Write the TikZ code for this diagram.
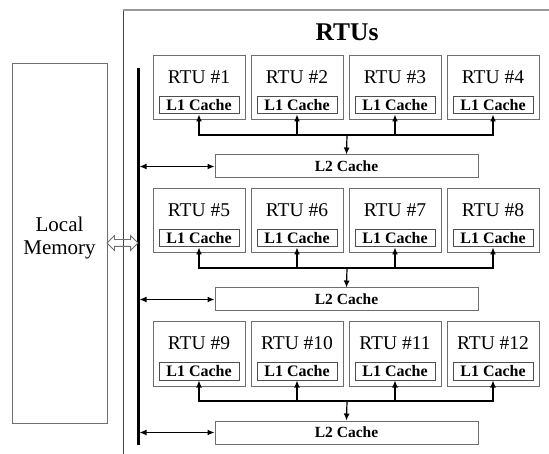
\documentclass[tikz,border=0pt]{standalone}
\usepackage{fontspec}
\setmainfont{Liberation Serif}
\usetikzlibrary{shapes.arrows,arrows.meta}
\definecolor{boxgray}{RGB}{110,110,110}
\tikzset{
  rtubox/.style={draw=boxgray, line width=1pt, minimum width=92pt, minimum height=64pt, inner sep=0pt},
  cachebox/.style={draw=boxgray!70!black, line width=1pt, minimum width=80pt, minimum height=17pt, inner sep=0pt, font=\fontsize{16}{16}\selectfont\bfseries},
  ltwobox/.style={draw=boxgray, line width=1pt, minimum width=263pt, minimum height=23pt, inner sep=0pt, font=\fontsize{15.5}{16}\selectfont\bfseries},
}
\begin{document}
\begin{tikzpicture}[x=1pt, y=-1pt, >={Latex[length=7pt,width=6pt]}, line width=1.2pt]
    \useasboundingbox (0,0) rectangle (549,454);
    %RTUs frame
    \draw[black!75, line width=1pt] (123,454) -- (123,10);
    \draw[black!40, line width=1.3pt] (123,10) -- (549,10);
    \node (title) at (347,32) {\fontsize{25.5}{26}\selectfont\bfseries RTUs};

    %local memory
    \node[draw=boxgray, line width=1pt, minimum width=95pt, minimum height=359pt] (mem) at (59.5,243.5) {};
    \node[align=center, font=\fontsize{21}{23}\selectfont] (memtext) at (59.5,238) {Local\\Memory};

    %bus
    \coordinate (bustop) at (138,68);
    \coordinate (busbot) at (138,445);
    \draw[line width=3pt] (bustop) -- (busbot);
    \node[double arrow, draw=boxgray, line width=0.8pt, inner xsep=0pt, inner ysep=3pt,
          double arrow head extend=4pt, minimum height=31pt] (link) at (122.5,243) {};

    %rows of RTUs
    \foreach \r in {1,2,3} {
        \pgfmathsetmacro\ry{88+133*(\r-1)}
        \coordinate (hub\r) at (347,{\ry+47});
        \node[ltwobox] (ltwo\r) at (346.5,{\ry+78.5}) {L2 Cache};
        \foreach \c in {1,...,4} {
            \pgfmathtruncatemacro\n{4*(\r-1)+\c}
            \pgfmathsetmacro\rx{199+98*(\c-1)}
            \node[rtubox] (rtu\n) at (\rx,\ry) {};
            \node[font=\fontsize{19.5}{19.5}\selectfont] (name\n) at ([yshift=11pt]rtu\n.center) {RTU \#\n};
            \node[cachebox] (cache\n) at ([yshift=-17.5pt]rtu\n.center) {L1 Cache};
            \draw[->] (hub\r) -| (cache\n.south);
        }
        \draw[->] (hub\r) -- (ltwo\r.north);
        \draw[<->, shorten <=1.5pt] (ltwo\r.west -| bustop) -- (ltwo\r.west);
    }
\end{tikzpicture}
\end{document}
